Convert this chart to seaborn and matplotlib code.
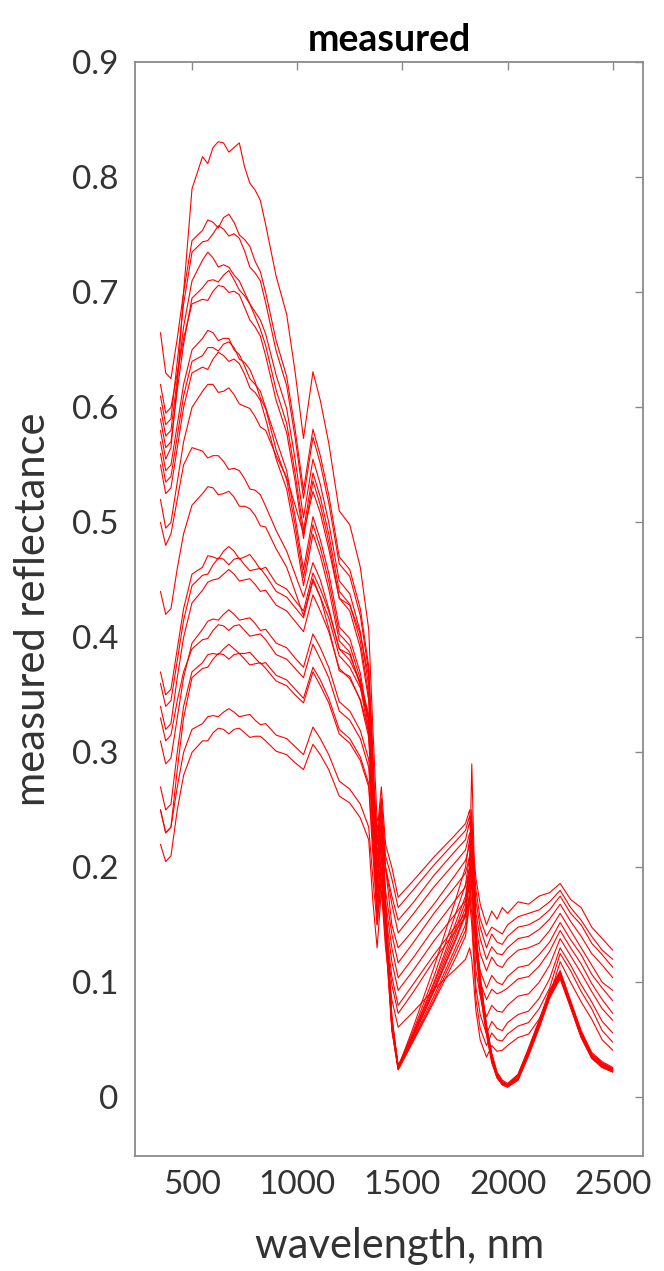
import numpy as np
import pandas as pd
import matplotlib
matplotlib.use("Agg")
import matplotlib.pyplot as plt
import seaborn as sns

# wavelengths (nm) shared by all spectra
wavelength = [350, 375, 400, 430, 460, 500,
              550, 575, 600, 625, 650, 675, 700, 725, 750, 775, 800, 825, 850,
              900, 950, 990, 1030, 1075, 1110, 1150, 1200, 1250, 1300, 1340,
              1360, 1380, 1400, 1420, 1450, 1480,
              1550, 1650, 1750, 1800, 1820, 1830,
              1850, 1870, 1900, 1925, 1950, 1975, 2000,
              2050, 2100, 2150, 2200, 2250, 2300, 2350, 2400, 2450, 2500]

c1 = [0.58, 0.555, 0.565, 0.62, 0.70, 0.79, 0.818, 0.812, 0.826, 0.831, 0.83, 0.822, 0.826, 0.83, 0.809, 0.795, 0.789, 0.78, 0.759, 0.714, 0.681, 0.631, 0.573, 0.631, 0.606, 0.569, 0.51, 0.498, 0.461, 0.407, 0.32, 0.24, 0.25, 0.17, 0.07, 0.028, 0.052, 0.093, 0.137, 0.16, 0.2, 0.29, 0.14, 0.1, 0.06, 0.035, 0.02, 0.012, 0.01, 0.018, 0.04, 0.064, 0.09, 0.108, 0.082, 0.055, 0.037, 0.029, 0.024]
c2 = [0.665, 0.63, 0.625, 0.66, 0.70, 0.745, 0.754, 0.763, 0.761, 0.756, 0.765, 0.768, 0.761, 0.75, 0.746, 0.74, 0.727, 0.718, 0.70, 0.658, 0.627, 0.581, 0.528, 0.581, 0.558, 0.524, 0.47, 0.459, 0.425, 0.375, 0.30, 0.2, 0.24, 0.16, 0.065, 0.026, 0.05, 0.088, 0.129, 0.15, 0.18, 0.25, 0.135, 0.095, 0.058, 0.032, 0.018, 0.011, 0.009, 0.016, 0.038, 0.062, 0.088, 0.106, 0.08, 0.053, 0.035, 0.027, 0.023]
c3 = [0.61, 0.585, 0.59, 0.64, 0.69, 0.735, 0.744, 0.745, 0.751, 0.758, 0.755, 0.749, 0.751, 0.747, 0.736, 0.722, 0.717, 0.71, 0.691, 0.649, 0.619, 0.574, 0.521, 0.574, 0.551, 0.517, 0.464, 0.453, 0.419, 0.37, 0.29, 0.22, 0.26, 0.17, 0.07, 0.025, 0.055, 0.10, 0.15, 0.175, 0.2, 0.22, 0.14, 0.105, 0.062, 0.038, 0.021, 0.014, 0.011, 0.02, 0.042, 0.066, 0.092, 0.11, 0.083, 0.057, 0.038, 0.03, 0.025]
c4 = [0.60, 0.575, 0.58, 0.625, 0.67, 0.71, 0.728, 0.735, 0.73, 0.722, 0.724, 0.722, 0.715, 0.71, 0.70, 0.69, 0.683, 0.676, 0.664, 0.628, 0.599, 0.555, 0.504, 0.555, 0.533, 0.50, 0.449, 0.438, 0.405, 0.358, 0.27, 0.18, 0.23, 0.16, 0.06, 0.024, 0.048, 0.083, 0.12, 0.14, 0.17, 0.2, 0.13, 0.09, 0.055, 0.03, 0.017, 0.011, 0.009, 0.015, 0.036, 0.06, 0.086, 0.104, 0.078, 0.052, 0.034, 0.026, 0.022]
c5 = [0.59, 0.565, 0.57, 0.615, 0.655, 0.695, 0.704, 0.71, 0.711, 0.709, 0.715, 0.719, 0.711, 0.702, 0.697, 0.69, 0.679, 0.668, 0.654, 0.615, 0.586, 0.543, 0.493, 0.543, 0.522, 0.49, 0.44, 0.429, 0.397, 0.35, 0.26, 0.2, 0.22, 0.15, 0.065, 0.027, 0.057, 0.105, 0.158, 0.185, 0.21, 0.23, 0.14, 0.1, 0.06, 0.034, 0.019, 0.013, 0.01, 0.017, 0.04, 0.065, 0.09, 0.107, 0.081, 0.054, 0.036, 0.028, 0.024]
c6 = [0.62, 0.595, 0.60, 0.63, 0.66, 0.69, 0.694, 0.693, 0.701, 0.706, 0.705, 0.70, 0.701, 0.698, 0.687, 0.676, 0.67, 0.662, 0.645, 0.606, 0.578, 0.536, 0.486, 0.536, 0.515, 0.483, 0.434, 0.423, 0.391, 0.345, 0.28, 0.21, 0.24, 0.16, 0.068, 0.026, 0.052, 0.092, 0.135, 0.158, 0.19, 0.21, 0.135, 0.096, 0.057, 0.033, 0.018, 0.012, 0.009, 0.016, 0.039, 0.063, 0.089, 0.105, 0.079, 0.053, 0.036, 0.027, 0.023]
c7 = [0.57, 0.545, 0.55, 0.585, 0.62, 0.65, 0.66, 0.667, 0.665, 0.658, 0.66, 0.66, 0.65, 0.646, 0.636, 0.625, 0.62, 0.614, 0.60, 0.572, 0.545, 0.505, 0.459, 0.505, 0.485, 0.456, 0.409, 0.399, 0.369, 0.326, 0.25, 0.17, 0.21, 0.15, 0.06, 0.025, 0.053, 0.095, 0.141, 0.165, 0.19, 0.2, 0.135, 0.097, 0.058, 0.034, 0.019, 0.012, 0.01, 0.017, 0.04, 0.064, 0.09, 0.106, 0.08, 0.054, 0.036, 0.027, 0.023]
c8 = [0.56, 0.535, 0.54, 0.575, 0.61, 0.64, 0.645, 0.652, 0.652, 0.649, 0.655, 0.657, 0.652, 0.642, 0.639, 0.633, 0.622, 0.608, 0.599, 0.563, 0.537, 0.498, 0.452, 0.498, 0.478, 0.449, 0.403, 0.393, 0.364, 0.321, 0.24, 0.16, 0.2, 0.14, 0.058, 0.024, 0.049, 0.085, 0.125, 0.145, 0.17, 0.19, 0.13, 0.092, 0.055, 0.031, 0.017, 0.011, 0.009, 0.015, 0.037, 0.061, 0.087, 0.103, 0.078, 0.052, 0.034, 0.026, 0.022]
c9 = [0.55, 0.525, 0.53, 0.565, 0.60, 0.63, 0.635, 0.633, 0.642, 0.648, 0.645, 0.64, 0.642, 0.638, 0.629, 0.617, 0.613, 0.606, 0.59, 0.555, 0.529, 0.49, 0.445, 0.49, 0.471, 0.442, 0.397, 0.387, 0.358, 0.316, 0.23, 0.15, 0.19, 0.14, 0.06, 0.026, 0.06, 0.113, 0.17, 0.20, 0.225, 0.21, 0.14, 0.102, 0.061, 0.036, 0.02, 0.013, 0.011, 0.019, 0.041, 0.066, 0.091, 0.108, 0.082, 0.056, 0.037, 0.029, 0.025]
c10 = [0.52, 0.495, 0.50, 0.535, 0.57, 0.60, 0.614, 0.62, 0.62, 0.613, 0.614, 0.617, 0.611, 0.603, 0.601, 0.599, 0.592, 0.583, 0.58, 0.558, 0.539, 0.515, 0.49, 0.527, 0.508, 0.477, 0.434, 0.428, 0.403, 0.366, 0.28, 0.19, 0.23, 0.16, 0.065, 0.027, 0.054, 0.098, 0.145, 0.17, 0.2, 0.24, 0.145, 0.105, 0.063, 0.038, 0.022, 0.015, 0.012, 0.02, 0.043, 0.067, 0.093, 0.11, 0.084, 0.058, 0.039, 0.031, 0.026]
c11 = [0.50, 0.48, 0.49, 0.52, 0.55, 0.565, 0.562, 0.556, 0.558, 0.558, 0.553, 0.546, 0.547, 0.545, 0.538, 0.529, 0.528, 0.524, 0.514, 0.493, 0.475, 0.455, 0.435, 0.465, 0.45, 0.425, 0.39, 0.385, 0.36, 0.33, 0.28, 0.22, 0.25, 0.2, 0.15, 0.13, 0.145, 0.168, 0.193, 0.206, 0.22, 0.2, 0.15, 0.125, 0.11, 0.122, 0.115, 0.113, 0.12, 0.128, 0.13, 0.134, 0.145, 0.16, 0.145, 0.13, 0.115, 0.1, 0.093]
c12 = [0.44, 0.42, 0.425, 0.46, 0.49, 0.515, 0.525, 0.531, 0.53, 0.524, 0.525, 0.527, 0.522, 0.514, 0.514, 0.512, 0.506, 0.497, 0.496, 0.477, 0.461, 0.44, 0.419, 0.451, 0.435, 0.408, 0.371, 0.366, 0.345, 0.313, 0.26, 0.2, 0.23, 0.2, 0.175, 0.154, 0.169, 0.193, 0.214, 0.224, 0.24, 0.22, 0.17, 0.148, 0.13, 0.142, 0.135, 0.133, 0.14, 0.148, 0.15, 0.155, 0.163, 0.175, 0.16, 0.15, 0.134, 0.124, 0.113]
c13 = [0.37, 0.35, 0.355, 0.39, 0.425, 0.455, 0.461, 0.471, 0.47, 0.468, 0.475, 0.479, 0.475, 0.468, 0.47, 0.472, 0.466, 0.459, 0.461, 0.447, 0.442, 0.432, 0.423, 0.456, 0.442, 0.423, 0.39, 0.38, 0.361, 0.333, 0.28, 0.23, 0.27, 0.22, 0.2, 0.174, 0.188, 0.209, 0.228, 0.238, 0.25, 0.23, 0.19, 0.168, 0.15, 0.162, 0.155, 0.165, 0.16, 0.17, 0.168, 0.175, 0.178, 0.186, 0.172, 0.165, 0.148, 0.138, 0.128]
c14 = [0.36, 0.34, 0.345, 0.38, 0.415, 0.445, 0.454, 0.455, 0.463, 0.469, 0.468, 0.463, 0.468, 0.469, 0.463, 0.458, 0.459, 0.46, 0.454, 0.44, 0.435, 0.426, 0.417, 0.449, 0.435, 0.417, 0.384, 0.374, 0.356, 0.328, 0.27, 0.22, 0.26, 0.21, 0.19, 0.165, 0.18, 0.202, 0.222, 0.232, 0.245, 0.225, 0.18, 0.155, 0.14, 0.148, 0.145, 0.142, 0.15, 0.157, 0.16, 0.163, 0.17, 0.18, 0.165, 0.154, 0.14, 0.128, 0.12]
c15 = [0.34, 0.32, 0.325, 0.365, 0.40, 0.43, 0.441, 0.448, 0.45, 0.451, 0.455, 0.459, 0.455, 0.449, 0.45, 0.451, 0.446, 0.44, 0.441, 0.428, 0.423, 0.414, 0.405, 0.437, 0.423, 0.405, 0.373, 0.364, 0.346, 0.319, 0.26, 0.21, 0.25, 0.2, 0.168, 0.143, 0.159, 0.183, 0.204, 0.215, 0.23, 0.21, 0.16, 0.138, 0.12, 0.131, 0.125, 0.124, 0.13, 0.138, 0.14, 0.146, 0.155, 0.168, 0.153, 0.14, 0.125, 0.115, 0.104]
c16 = [0.31, 0.29, 0.295, 0.33, 0.365, 0.395, 0.407, 0.414, 0.416, 0.415, 0.42, 0.424, 0.42, 0.415, 0.416, 0.417, 0.412, 0.406, 0.407, 0.395, 0.391, 0.382, 0.374, 0.403, 0.391, 0.374, 0.344, 0.336, 0.319, 0.294, 0.24, 0.19, 0.23, 0.18, 0.142, 0.117, 0.134, 0.16, 0.183, 0.195, 0.21, 0.19, 0.135, 0.11, 0.095, 0.106, 0.1, 0.098, 0.105, 0.113, 0.115, 0.124, 0.135, 0.152, 0.137, 0.124, 0.107, 0.095, 0.084]
c17 = [0.33, 0.31, 0.315, 0.345, 0.37, 0.39, 0.398, 0.399, 0.406, 0.411, 0.41, 0.406, 0.41, 0.411, 0.406, 0.401, 0.402, 0.403, 0.398, 0.385, 0.381, 0.373, 0.365, 0.394, 0.381, 0.365, 0.336, 0.328, 0.312, 0.287, 0.23, 0.18, 0.22, 0.17, 0.13, 0.104, 0.121, 0.147, 0.171, 0.183, 0.2, 0.18, 0.125, 0.1, 0.085, 0.094, 0.09, 0.092, 0.095, 0.103, 0.105, 0.114, 0.127, 0.145, 0.13, 0.116, 0.099, 0.085, 0.073]
c18 = [0.27, 0.25, 0.255, 0.30, 0.34, 0.37, 0.378, 0.385, 0.386, 0.385, 0.39, 0.394, 0.39, 0.386, 0.386, 0.387, 0.382, 0.377, 0.378, 0.367, 0.363, 0.355, 0.347, 0.374, 0.363, 0.347, 0.32, 0.312, 0.296, 0.273, 0.22, 0.17, 0.21, 0.16, 0.118, 0.093, 0.11, 0.136, 0.159, 0.171, 0.185, 0.17, 0.11, 0.088, 0.07, 0.08, 0.075, 0.074, 0.08, 0.088, 0.09, 0.1, 0.115, 0.138, 0.123, 0.108, 0.092, 0.077, 0.067]
c19 = [0.25, 0.23, 0.235, 0.285, 0.33, 0.365, 0.373, 0.374, 0.381, 0.386, 0.385, 0.381, 0.385, 0.386, 0.381, 0.376, 0.377, 0.378, 0.373, 0.362, 0.358, 0.35, 0.343, 0.37, 0.358, 0.343, 0.316, 0.308, 0.293, 0.27, 0.21, 0.16, 0.2, 0.15, 0.105, 0.08, 0.098, 0.124, 0.148, 0.16, 0.175, 0.16, 0.095, 0.072, 0.055, 0.066, 0.06, 0.058, 0.065, 0.072, 0.075, 0.086, 0.103, 0.13, 0.115, 0.098, 0.083, 0.066, 0.056]
c20 = [0.25, 0.23, 0.235, 0.27, 0.30, 0.32, 0.325, 0.331, 0.332, 0.331, 0.335, 0.338, 0.335, 0.331, 0.332, 0.333, 0.328, 0.324, 0.325, 0.315, 0.312, 0.305, 0.298, 0.322, 0.312, 0.298, 0.275, 0.268, 0.255, 0.235, 0.19, 0.15, 0.19, 0.14, 0.098, 0.073, 0.091, 0.119, 0.144, 0.157, 0.17, 0.15, 0.085, 0.06, 0.045, 0.056, 0.05, 0.049, 0.055, 0.062, 0.065, 0.077, 0.095, 0.125, 0.11, 0.092, 0.077, 0.058, 0.048]
c21 = [0.22, 0.205, 0.21, 0.25, 0.28, 0.30, 0.31, 0.31, 0.317, 0.321, 0.32, 0.316, 0.32, 0.321, 0.317, 0.313, 0.314, 0.314, 0.31, 0.301, 0.298, 0.291, 0.285, 0.307, 0.298, 0.285, 0.262, 0.256, 0.243, 0.224, 0.17, 0.13, 0.18, 0.13, 0.085, 0.061, 0.074, 0.094, 0.111, 0.12, 0.13, 0.12, 0.075, 0.05, 0.035, 0.045, 0.04, 0.041, 0.045, 0.052, 0.055, 0.068, 0.088, 0.118, 0.1, 0.083, 0.068, 0.05, 0.041]

spectra = [c1, c2, c3, c4, c5, c6, c7, c8, c9, c10, c11, c12, c13, c14, c15, c16, c17, c18, c19, c20, c21]

xticks = [500, 1000, 1500, 2000, 2500]
yticks = [0, 0.1, 0.2, 0.3, 0.4, 0.5, 0.6, 0.7, 0.8, 0.9]
ytick_labels = ["0", "0.1", "0.2", "0.3", "0.4", "0.5", "0.6", "0.7", "0.8", "0.9"]

rows = []
for i, s in enumerate(spectra):
    assert len(s) == len(wavelength), (i, len(s))
    for w, v in zip(wavelength, s):
        rows.append({"sample": f"s{i+1}", "wavelength": w, "reflectance": v})
df = pd.DataFrame(rows)

sns.set_style("white")
plt.rcParams["font.family"] = ["Lato", "DejaVu Sans"]

fig = plt.figure(figsize=(6.64, 12.71), dpi=100)
ax = fig.add_axes([0.2033, 0.0905, 0.7651, 0.8604])

sns.lineplot(data=df, x="wavelength", y="reflectance", hue="sample",
             palette=["#ff0000"] * len(spectra), estimator=None, sort=False,
             legend=False, linewidth=0.8, ax=ax)

ax.set_xlim(229, 2644)
ax.set_ylim(-0.051, 0.9)
ax.set_xticks(xticks)
ax.set_xticklabels([str(t) for t in xticks])
ax.set_yticks(yticks)
ax.set_yticklabels(ytick_labels)

grey = "#8a8a8a"
for sp in ax.spines.values():
    sp.set_visible(True)
    sp.set_color(grey)
    sp.set_linewidth(1.3)
ax.tick_params(direction="in", length=6, width=1.0, color=grey,
               top=True, right=True, labelsize=24, labelcolor="#333333")
ax.tick_params(axis="y", pad=12)
ax.tick_params(axis="x", pad=10)

ax.set_xlabel("wavelength, nm", fontsize=30, color="#333333")
ax.set_ylabel("measured reflectance", fontsize=30, color="#333333")
ax.xaxis.set_label_coords(0.52, -0.065)
ax.yaxis.set_label_coords(-0.163, 0.5)
ax.set_title("measured", fontsize=27, fontweight="bold", color="black", pad=8)

fig.savefig("out.png", dpi=100)
